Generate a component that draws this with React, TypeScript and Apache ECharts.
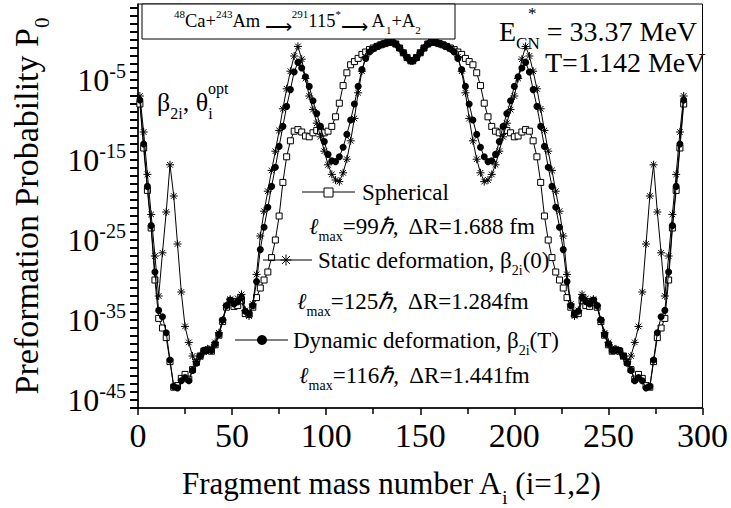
import React, { useEffect, useRef } from 'react';
import * as echarts from 'echarts';

// Fragment mass numbers: odd A on the left half, even A on the right half
const leftMass: number[] = [];
for (let a = 1; a <= 145; a += 2) leftMass.push(a);
const rightMass: number[] = [];
for (let a = 146; a <= 290; a += 2) rightMass.push(a);
const massNumbers = [...leftMass, ...rightMass];

// log10 of the preformation probability P0
const sphericalLog = [
  -8, -13.5, -18.8, -23.5, -30, -34.8, -36, -37.2, -40.2, -43.4,
  -43.2, -42.3, -41.8, -42.4, -41.2, -40.3, -39.5, -38.9, -38.8, -38.9,
  -38.1, -36.9, -35.2, -33.4, -32.6, -33.3, -33.2, -32.6, -34.2, -34.3,
  -33.4, -32.2, -31, -30, -29, -27.2, -25, -22, -17.8, -14.6,
  -12.6, -11.4, -11.2, -11.5, -12, -12.1, -11.6, -11.3, -11.4, -11.6,
  -11.4, -10.8, -9.6, -7.9, -5.7, -4.1, -3.1, -2.7, -2.3, -1.8,
  -1.5, -1.2, -1.0, -0.8, -0.6, -0.45, -0.3, -0.25, -0.5, -1.0,
  -1.6, -2.2, -2.6,
  -2.6, -2.2, -1.6, -1.0, -0.5, -0.25, -0.3, -0.45, -0.6, -0.8,
  -1.0, -1.2, -1.5, -1.8, -2.3, -2.7, -3.1, -4.1, -5.7, -7.9,
  -9.6, -10.8, -11.4, -11.6, -11.4, -11.3, -11.6, -12.1, -12, -11.5,
  -11.2, -11.4, -12.6, -14.6, -17.8, -22, -25, -27.2, -29, -30,
  -31, -32.2, -33.4, -34.3, -34.2, -32.6, -33.2, -33.3, -32.6, -33.4,
  -35.2, -36.9, -38.1, -38.9, -38.8, -38.9, -39.5, -40.3, -41.2, -42.4,
  -41.8, -42.3, -43.2, -43.4, -40.2, -37.2, -36, -34.8, -30, -23.5,
  -18.8, -13.5, -8,
];

const staticLog = [
  -7, -11.5, -16.8, -21.8, -27, -32, -26.6, -21.5, -15.6, -19.5,
  -25.5, -31.5, -35.8, -37.8, -39.5, -40.2, -39.6, -39, -38.6, -38.5,
  -37.8, -36.6, -35, -33.2, -32.4, -32.8, -32.3, -31.8, -33.8, -34.5,
  -33, -29.3, -24.5, -21.4, -18.9, -16.3, -13.9, -11.3, -8.6, -6.1,
  -3.9, -2.0, -0.8, -2.4, -4.8, -7, -8.7, -10.4, -12.1, -13.9,
  -15.6, -16.8, -17.5, -17.7, -16.6, -14.9, -12.6, -9.8, -6.6, -3.9,
  -2.1, -1.4, -1.1, -0.8, -0.6, -0.45, -0.3, -0.25, -0.5, -1.0,
  -1.6, -2.2, -2.6,
  -2.6, -2.2, -1.6, -1.0, -0.5, -0.25, -0.3, -0.45, -0.6, -0.8,
  -1.1, -1.4, -2.1, -3.9, -6.6, -9.8, -12.6, -14.9, -16.6, -17.7,
  -17.5, -16.8, -15.6, -13.9, -12.1, -10.4, -8.7, -7, -4.8, -2.4,
  -0.8, -2.0, -3.9, -6.1, -8.6, -11.3, -13.9, -16.3, -18.9, -21.4,
  -24.5, -29.3, -33, -34.5, -33.8, -31.8, -32.3, -32.8, -32.4, -33.2,
  -35, -36.6, -37.8, -38.5, -38.6, -39, -39.6, -40.2, -39.5, -37.8,
  -35.8, -31.5, -25.5, -19.5, -15.6, -21.5, -26.6, -32, -27, -21.8,
  -16.8, -11.5, -7,
];

const dynamicLog = [
  -7.5, -13, -18.3, -23.2, -29, -33.8, -34.6, -36.6, -40, -43.3,
  -43.5, -42.6, -42.2, -42.6, -41.3, -40.4, -39.5, -38.8, -38.7, -38.8,
  -38, -36.8, -35, -33.2, -32.5, -33, -32.7, -32.2, -33.9, -34.2,
  -33.2, -30.2, -26.2, -23.4, -20.9, -18.3, -15.9, -13.3, -10.8, -8.3,
  -6.2, -4.0, -2.8, -3.5, -4.6, -5.8, -7.6, -9.2, -10.8, -12.7,
  -14.3, -15.1, -15.2, -14.6, -13.4, -11.8, -10, -8, -5.8, -3.7,
  -2.3, -1.5, -1.1, -0.8, -0.6, -0.45, -0.3, -0.25, -0.5, -1.0,
  -1.6, -2.2, -2.6,
  -2.6, -2.2, -1.6, -1.0, -0.5, -0.25, -0.3, -0.45, -0.6, -0.8,
  -1.1, -1.5, -2.3, -3.7, -5.8, -8, -10, -11.8, -13.4, -14.6,
  -15.2, -15.1, -14.3, -12.7, -10.8, -9.2, -7.6, -5.8, -4.6, -3.5,
  -2.8, -4.0, -6.2, -8.3, -10.8, -13.3, -15.9, -18.3, -20.9, -23.4,
  -26.2, -30.2, -33.2, -34.2, -33.9, -32.2, -32.7, -33, -32.5, -33.2,
  -35, -36.8, -38, -38.8, -38.7, -38.8, -39.5, -40.4, -41.3, -42.6,
  -42.2, -42.6, -43.5, -43.3, -40, -36.6, -34.6, -33.8, -29, -23.2,
  -18.3, -13, -7.5,
];

const yTickExponents = [-45, -35, -25, -15, -5];
const xTickStep = 50;

const FONT = '"Liberation Serif", "Times New Roman", Times, serif';
const STAR = 'path://M0,5L10,5M5,0L5,10M1.5,1.5L8.5,8.5M8.5,1.5L1.5,8.5';

function rich(fs: number, lh: number) {
  const base = { fontFamily: FONT, fill: '#000', color: '#000' };
  const small = Math.round(fs * 0.62);
  return {
    n: { ...base, fontSize: fs, lineHeight: lh },
    it: { ...base, fontSize: fs, lineHeight: lh, fontStyle: 'italic' },
    sub: { ...base, fontSize: small, height: 6, lineHeight: 6, verticalAlign: 'bottom' },
    sup: { ...base, fontSize: small, height: 8, lineHeight: 8, verticalAlign: 'top' },
    arr: { ...base, fontSize: fs, height: 12, lineHeight: 12, verticalAlign: 'bottom' },
  };
}

function txt(x: number, y: number, text: string, fs: number, lh: number, extra: any = {}) {
  return {
    type: 'text',
    x,
    y,
    z: 100,
    ...extra,
    style: {
      text,
      rich: rich(fs, lh),
      fontFamily: FONT,
      fontSize: fs,
      fill: '#000',
      align: extra.align || 'left',
      textAlign: extra.align || 'left',
      verticalAlign: 'middle',
      textVerticalAlign: 'middle',
    },
  };
}

function line(x1: number, y1: number, x2: number, y2: number, w = 1) {
  return { type: 'line', z: 100, shape: { x1, y1, x2, y2 }, style: { stroke: '#000', lineWidth: w } };
}

export default function App() {
  const ref = useRef<HTMLDivElement>(null);
  useEffect(() => {
    document.body.style.margin = '0';
    if (!ref.current) return;
    const chart = echarts.init(ref.current, null, { renderer: 'svg' });
    const toPairs = (arr: number[]) => massNumbers.map((a, i) => [a, arr[i]]);

    const starCx = 286, starCy = 260, sr = 5.5;
    const graphic: any[] = [
      // reaction box
      { type: 'rect', z: 90, shape: { x: 142, y: 4, width: 313, height: 35 }, style: { fill: '#fff', stroke: '#000', lineWidth: 1 } },
      txt(174, 21, '{sup|48}{n|Ca+}{sup|243}{n|Am }{arr|⟶}{sup|291}{n|115}{sup|*}{arr|⟶}{n| A}{sub|1}{n|+A}{sub|2}', 18.5, 23),
      txt(499, 31, '{n|E}{sub|CN}{n| = 33.37 MeV}', 28, 31),
      txt(528, 13, '{n|*}', 17, 18),
      txt(545, 62, '{n|T=1.142 MeV}', 28, 31),
      txt(157, 102, '{n|β}{sub|2i}{n|, θ}{sub|i}', 26, 29),
      txt(208, 88, '{n|opt}', 16, 17),
      // legend: spherical
      line(302, 192, 355, 192),
      { type: 'rect', z: 101, shape: { x: 324, y: 188, width: 9, height: 9 }, style: { fill: '#fff', stroke: '#000', lineWidth: 1 } },
      txt(362, 192, '{n|Spherical}', 23, 26),
      txt(309, 226, '{it|ℓ}{sub|max}{n|=99}{it|ℏ}{n|,  ΔR=1.688 fm}', 23, 26),
      // legend: static
      line(263, 260, 312, 260),
      line(starCx - sr, starCy, starCx + sr, starCy),
      line(starCx, starCy - sr, starCx, starCy + sr),
      line(starCx - sr * 0.72, starCy - sr * 0.72, starCx + sr * 0.72, starCy + sr * 0.72),
      line(starCx - sr * 0.72, starCy + sr * 0.72, starCx + sr * 0.72, starCy - sr * 0.72),
      txt(318, 260, '{n|Static deformation, β}{sub|2i}{n|(0)}', 23, 26),
      txt(297, 301, '{it|ℓ}{sub|max}{n|=125}{it|ℏ}{n|,  ΔR=1.284fm}', 23, 26),
      // legend: dynamic
      line(235, 340, 288, 340),
      { type: 'circle', z: 101, shape: { cx: 262, cy: 340, r: 5 }, style: { fill: '#000' } },
      txt(293, 340, '{n|Dynamic deformation, β}{sub|2i}{n|(T)}', 23, 26),
      txt(299, 375, '{it|ℓ}{sub|max}{n|=116}{it|ℏ}{n|,  ΔR=1.441fm}', 23, 26),
      // axis titles
      txt(391, 483, '{n|Fragment mass number A}{sub|i}{n| (i=1,2)}', 31, 34, { align: 'center' }),
      txt(26, 206, '{n|Preformation Probability P}{sub|0}', 34, 37, { align: 'center', rotation: Math.PI / 2 }),
    ];

    const option: any = {
      animation: false,
      backgroundColor: '#fff',
      grid: { left: 138, right: 26, top: 4, bottom: 100, show: true, borderColor: '#000', borderWidth: 1, containLabel: false },
      xAxis: {
        type: 'value',
        min: 0,
        max: 300,
        interval: xTickStep,
        axisLine: { show: true, onZero: false, lineStyle: { color: '#000', width: 1.5 } },
        axisTick: { show: true, inside: false, length: 7, lineStyle: { color: '#000', width: 1.5 } },
        minorTick: { show: true, splitNumber: 2, length: 6, lineStyle: { color: '#000', width: 1.5 } },
        axisLabel: { fontSize: 34, fontFamily: FONT, color: '#000', margin: 10 },
        splitLine: { show: false },
      },
      yAxis: {
        type: 'value',
        min: -46,
        max: 4.5,
        interval: 1,
        axisLine: { show: true, onZero: false, lineStyle: { color: '#000', width: 1.5 } },
        axisTick: { show: true, inside: false, length: 8, interval: 0, lineStyle: { color: '#000', width: 2 } },
        axisLabel: {
          interval: 0,
          margin: 12,
          showMaxLabel: false,
          formatter: (v: number) => {
            const r = Math.round(v);
            if (Math.abs(v - r) < 1e-6 && yTickExponents.includes(r)) return `{b|10}{s|${r}}`;
            return '';
          },
          rich: {
            b: { fontSize: 32, fontFamily: FONT, color: '#000', lineHeight: 34 },
            s: { fontSize: 20, fontFamily: FONT, color: '#000', height: 16, lineHeight: 16, verticalAlign: 'top' },
          },
        },
        splitLine: { show: false },
      },
      series: [
        {
          type: 'line', name: 'Spherical', data: toPairs(sphericalLog), symbol: 'rect', symbolSize: 6,
          showAllSymbol: true, lineStyle: { color: '#000', width: 1 },
          itemStyle: { color: '#fff', borderColor: '#000', borderWidth: 1 }, z: 2,
        },
        {
          type: 'line', name: 'Static', data: toPairs(staticLog), symbol: STAR, symbolSize: 8,
          showAllSymbol: true, lineStyle: { color: '#000', width: 1 },
          itemStyle: { color: '#000', borderColor: '#000', borderWidth: 1 }, z: 3,
        },
        {
          type: 'line', name: 'Dynamic', data: toPairs(dynamicLog), symbol: 'circle', symbolSize: 7,
          showAllSymbol: true, lineStyle: { color: '#000', width: 1 },
          itemStyle: { color: '#000', borderWidth: 0 }, z: 4,
        },
      ],
      graphic,
    };
    chart.setOption(option);
    return () => chart.dispose();
  }, []);
  return <div ref={ref} style={{ position: 'fixed', left: 0, top: 0, width: 731, height: 508 }} />;
}
